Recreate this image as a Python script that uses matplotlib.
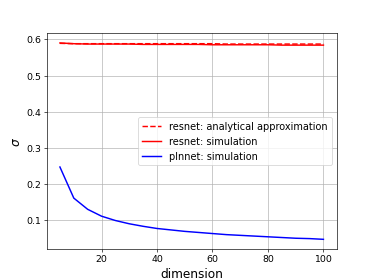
import numpy as np
import matplotlib.pyplot as plt

# dimensions
dims = np.arange(5, 101, 5)

# resnet: analytical approximation
resnet_analytical = [0.589, 0.588, 0.588, 0.588, 0.588, 0.588, 0.588, 0.588, 0.588, 0.588,
                     0.588, 0.588, 0.587, 0.587, 0.587, 0.587, 0.587, 0.587, 0.587, 0.587]
# resnet: simulation
resnet_sim = [0.590, 0.588, 0.587, 0.587, 0.587, 0.587, 0.586, 0.586, 0.586, 0.586,
              0.586, 0.585, 0.585, 0.585, 0.585, 0.585, 0.584, 0.584, 0.584, 0.584]
# plnnet: simulation
plnnet_sim = [0.247, 0.161, 0.130, 0.111, 0.099, 0.090, 0.083, 0.077, 0.073, 0.069,
              0.066, 0.063, 0.060, 0.058, 0.056, 0.054, 0.052, 0.050, 0.049, 0.047]

plt.figure(figsize=(6.4, 4.8), dpi=58.44)
plt.plot(dims, resnet_analytical, 'r--', lw=1.8, label='resnet: analytical approximation')
plt.plot(dims, resnet_sim, 'r-', lw=1.8, label='resnet: simulation')
plt.plot(dims, plnnet_sim, 'b-', lw=1.8, label='plnnet: simulation')
plt.xlabel('dimension', fontsize=15)
plt.ylabel(r'$\sigma$', fontsize=15)
plt.xticks(fontsize=11.5)
plt.yticks(fontsize=11.5)
plt.legend(loc='center right', fontsize=12)
plt.grid(True)
plt.savefig('out.png')
